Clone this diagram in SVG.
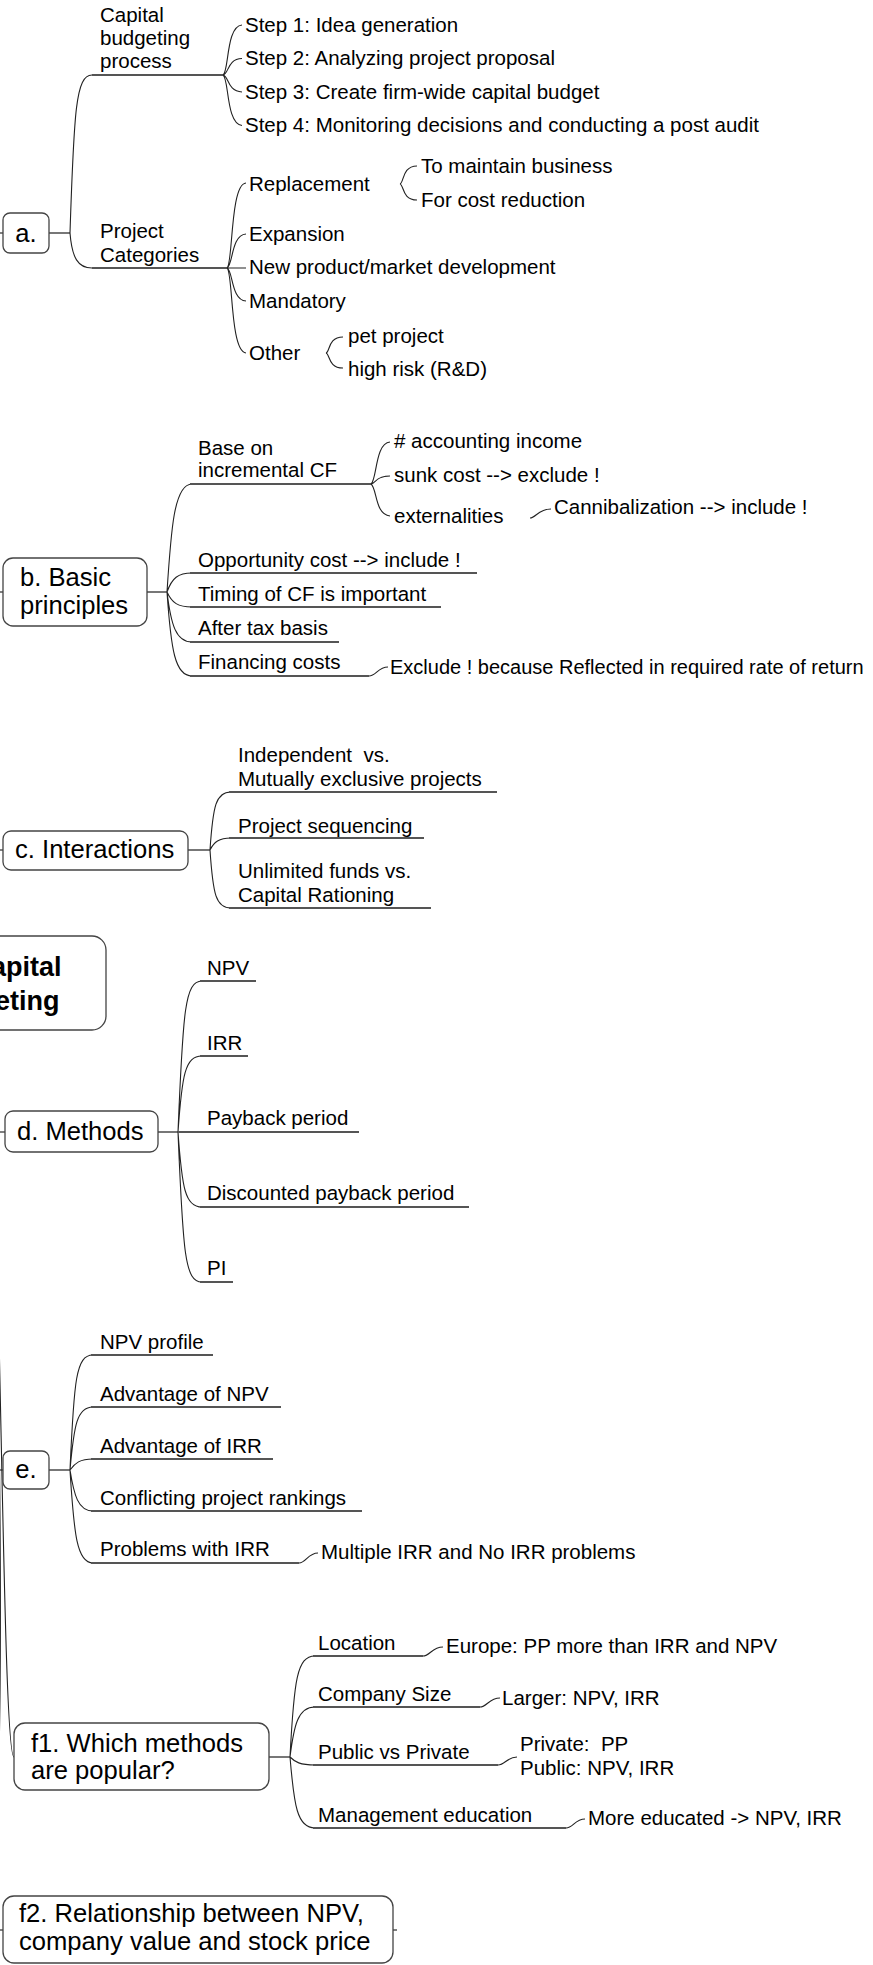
<svg xmlns="http://www.w3.org/2000/svg" width="873" height="1965" viewBox="0 0 873 1965">
<style>
text{font-family:"Liberation Sans",Arial,sans-serif;fill:#000}
.m{font-size:25.6px}
.s{font-size:20.5px}
.root{font-size:27px;font-weight:bold}
.pre{white-space:pre}
.box{fill:#fff;stroke:#444;stroke-width:1.3}
.c{fill:none;stroke:#222;stroke-width:1.1}
.u{fill:none;stroke:#555;stroke-width:1.8}
.h{fill:none;stroke:#555;stroke-width:1.6}
</style>
<rect width="873" height="1965" fill="#fff"/>
<g id="connectors">
<!-- root to children (visible stubs) -->
<path class="h" d="M0,233H3M0,592H3M0,850H3M0,1132H5M0,1470H3M0,1930H3M393,1930H397"/>
<path class="c" d="M-2,1295C3,1500 6,1757 14,1757"/>
<path class="c" d="M-3,1310C2,1560 1,1740 -3,1800"/>
<!-- a -->
<path class="h" d="M49,233H70"/>
<path class="c" d="M70,233C74,110 76,75 92,75"/>
<path class="u" d="M92,75H223"/>
<path class="c" d="M70,233C72,258 78,268 92,268"/>
<path class="u" d="M92,268H227"/>
<path class="c" d="M223,75C229,72 226,26 242,25M223,75C229,74 227,59 242,58.5M223,75C229,76 227,91 242,92M223,75C229,78 226,124 242,125.5"/>
<path class="c" d="M227,268C233,265 230,184 246,183M227,268C233,266 231,235 246,234M227,268H246M227,268C233,270 231,300 246,301M227,268C233,271 230,352 246,353"/>
<path class="c" d="M400,184C404,183 402,166 417,166M400,184C404,185 402,200 417,200"/>
<path class="c" d="M326,353C330,352 328,337 343,337M326,353C330,354 328,368 343,368"/>
<!-- b -->
<path class="h" d="M147,592H167"/>
<path class="c" d="M167,592C171,530 174,484 192,484M167,592C172,578 178,573 192,573M167,592C172,603 178,607 192,607M167,592C171,625 176,642 192,642M167,592C171,650 175,676 192,676"/>
<path class="u" d="M190,484H371M190,573H477M190,607H441M190,642H339M190,676H369"/>
<path class="c" d="M371,484C377,480 375,443 390,442M371,484C376,483 376,476 390,476M371,484C377,488 375,515 390,516"/>
<path class="c" d="M530,518C536,518 538,509 551,509"/>
<path class="c" d="M369,676C376,676 378,667 388,667"/>
<!-- c -->
<path class="h" d="M188,850H210"/>
<path class="c" d="M210,850C213,805 216,792 231,792M210,850C214,842 219,838 231,838M210,850C213,895 216,908 231,908"/>
<path class="u" d="M229,792H497M229,838H424M229,908H431"/>
<!-- d -->
<path class="h" d="M158,1132H178"/>
<path class="c" d="M178,1132C183,1010 185,981 202,981M178,1132C182,1075 185,1056 202,1056M178,1132C182,1188 185,1207 202,1207M178,1132C183,1254 185,1282 202,1282"/>
<path class="u" d="M200,981H256M200,1056H248M178,1132H359M200,1207H469M200,1282H233"/>
<!-- e -->
<path class="h" d="M49,1470H70"/>
<path class="c" d="M70,1470C74,1380 76,1355 93,1355M70,1470C74,1425 77,1407 93,1407M70,1470C75,1463 80,1459 93,1459M70,1470C74,1495 78,1511 93,1511M70,1470C74,1535 77,1563 93,1563"/>
<path class="u" d="M91,1355H213M91,1407H281M91,1459H273M91,1511H362M91,1563H299"/>
<path class="c" d="M299,1563C306,1563 308,1553 318,1553"/>
<!-- f1 -->
<path class="h" d="M269,1757H290"/>
<path class="c" d="M290,1757C294,1680 297,1656 315,1656M290,1757C294,1725 298,1707 315,1707M290,1757C295,1762 300,1765 315,1765M290,1757C294,1805 297,1828 315,1828"/>
<path class="u" d="M313,1656H423M313,1707H480M313,1765H498M313,1828H566"/>
<path class="c" d="M423,1656C430,1656 432,1647 443,1647M480,1707C487,1707 489,1698 500,1698M498,1765C505,1765 507,1757 517,1757M566,1828C573,1828 575,1819 585,1819"/>
</g>

<g id="root">
<rect class="box" x="-150" y="936" width="256" height="94" rx="14"/>
<text class="root" x="61.5" y="976" text-anchor="end">Capital</text>
<text class="root" x="59.5" y="1010" text-anchor="end">Budgeting</text>
</g>

<g id="node-a">
<rect class="box" x="3" y="213" width="46" height="40" rx="7"/>
<text class="m" x="26" y="242" text-anchor="middle">a.</text>
</g>
<g id="a-process">
<text class="s" x="100" y="21.5">Capital</text>
<text class="s" x="100" y="44.5">budgeting</text>
<text class="s" x="100" y="67.5">process</text>
</g>
<g id="a-steps">
<text class="s" x="245" y="31.5">Step 1: Idea generation</text>
<text class="s" x="245" y="65">Step 2: Analyzing project proposal</text>
<text class="s" x="245" y="98.5">Step 3: Create firm-wide capital budget</text>
<text class="s" x="245" y="132">Step 4: Monitoring decisions and conducting a post audit</text>
</g>
<g id="a-categories">
<text class="s" x="100" y="238">Project</text>
<text class="s" x="100" y="262">Categories</text>
</g>
<g id="a-cat-children">
<text class="s" x="249" y="190.5">Replacement</text>
<text class="s" x="249" y="241">Expansion</text>
<text class="s" x="249" y="274">New product/market development</text>
<text class="s" x="249" y="308">Mandatory</text>
<text class="s" x="249" y="360">Other</text>
<text class="s" x="421" y="173">To maintain business</text>
<text class="s" x="421" y="207">For cost reduction</text>
<text class="s" x="348" y="343">pet project</text>
<text class="s" x="348" y="376">high risk (R&amp;D)</text>
</g>

<g id="node-b">
<rect class="box" x="3" y="558" width="144" height="68" rx="10"/>
<text class="m" x="20" y="586">b. Basic</text>
<text class="m" x="20" y="614">principles</text>
</g>
<g id="b-children">
<text class="s" x="198" y="455">Base on</text>
<text class="s" x="198" y="477">incremental CF</text>
<text class="s" x="198" y="567">Opportunity cost --&gt; include !</text>
<text class="s" x="198" y="601">Timing of CF is important</text>
<text class="s" x="198" y="635">After tax basis</text>
<text class="s" x="198" y="669">Financing costs</text>
<text class="s" x="394" y="448"># accounting income</text>
<text class="s" x="394" y="482">sunk cost --&gt; exclude !</text>
<text class="s" x="394" y="523">externalities</text>
<text class="s" x="554" y="514">Cannibalization --&gt; include !</text>
<text class="s" x="390" y="674" style="font-size:20px">Exclude ! because Reflected in required rate of return</text>
</g>

<g id="node-c">
<rect class="box" x="3" y="831" width="185" height="39" rx="8"/>
<text class="m" x="15" y="858">c. Interactions</text>
</g>
<g id="c-children">
<text class="s pre" x="238" y="762">Independent  vs.</text>
<text class="s" x="238" y="786">Mutually exclusive projects</text>
<text class="s" x="238" y="832.5">Project sequencing</text>
<text class="s" x="238" y="878">Unlimited funds vs.</text>
<text class="s" x="238" y="902">Capital Rationing</text>
</g>

<g id="node-d">
<rect class="box" x="5" y="1111" width="153" height="41" rx="8"/>
<text class="m" x="17" y="1140">d. Methods</text>
</g>
<g id="d-children">
<text class="s" x="207" y="975">NPV</text>
<text class="s" x="207" y="1050">IRR</text>
<text class="s" x="207" y="1125">Payback period</text>
<text class="s" x="207" y="1200">Discounted payback period</text>
<text class="s" x="207" y="1275">PI</text>
</g>

<g id="node-e">
<rect class="box" x="3" y="1451" width="46" height="38" rx="7"/>
<text class="m" x="26" y="1478" text-anchor="middle">e.</text>
</g>
<g id="e-children">
<text class="s" x="100" y="1349">NPV profile</text>
<text class="s" x="100" y="1401">Advantage of NPV</text>
<text class="s" x="100" y="1453">Advantage of IRR</text>
<text class="s" x="100" y="1505">Conflicting project rankings</text>
<text class="s" x="100" y="1556">Problems with IRR</text>
<text class="s" x="321" y="1559">Multiple IRR and No IRR problems</text>
</g>

<g id="node-f1">
<rect class="box" x="14" y="1723" width="255" height="67" rx="11"/>
<text class="m" x="31" y="1752">f1. Which methods</text>
<text class="m" x="31" y="1779">are popular?</text>
</g>
<g id="f1-children">
<text class="s" x="318" y="1650">Location</text>
<text class="s" x="318" y="1701">Company Size</text>
<text class="s" x="318" y="1759">Public vs Private</text>
<text class="s" x="318" y="1822">Management education</text>
<text class="s" x="446" y="1653">Europe: PP more than IRR and NPV</text>
<text class="s" x="502" y="1705">Larger: NPV, IRR</text>
<text class="s pre" x="520" y="1751">Private:  PP</text>
<text class="s" x="520" y="1775">Public: NPV, IRR</text>
<text class="s" x="588" y="1825">More educated -&gt; NPV, IRR</text>
</g>

<g id="node-f2">
<rect class="box" x="3" y="1896" width="390" height="67" rx="11"/>
<text class="m" x="19" y="1922">f2. Relationship between NPV,</text>
<text class="m" x="19" y="1950">company value and stock price</text>
</g>
</svg>
